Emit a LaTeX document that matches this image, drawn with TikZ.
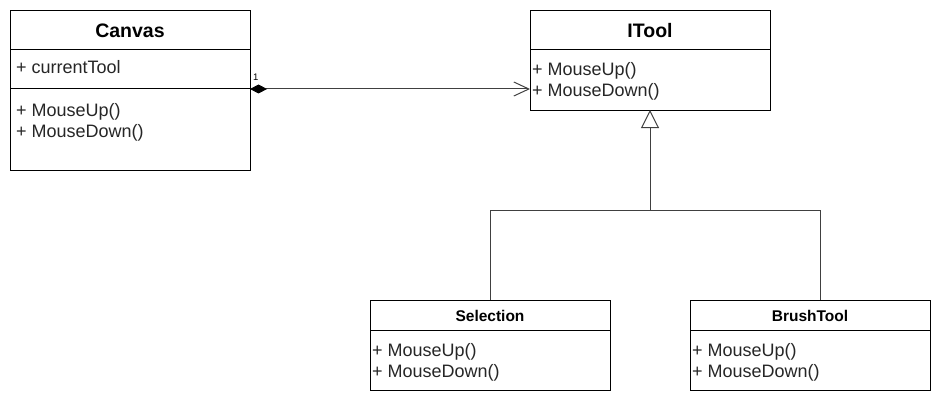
\documentclass[tikz,border=0pt]{standalone}
\usepackage{fontspec}
\setmainfont{Liberation Sans}
\usetikzlibrary{arrows.meta}
\begin{document}
\begin{tikzpicture}[x=1pt,y=-1pt,
  classbox/.style={draw=black, line width=1pt, anchor=north west, inner sep=0pt, minimum width=240pt},
  bigtitle/.style={anchor=base, inner sep=0pt, font=\fontsize{19.5}{22}\selectfont\bfseries},
  smalltitle/.style={anchor=base, inner sep=0pt, font=\fontsize{15.5}{18}\selectfont\bfseries},
  member/.style={anchor=base west, inner sep=0pt, font=\fontsize{18}{20}\selectfont, text=black!85},
  divider/.style={line width=1pt, black},
  conn/.style={line width=1pt, black!75}]
\useasboundingbox (0,0) rectangle (941,401);

% Canvas
\node[classbox, minimum height=160pt] (canvas) at (10,10) {};
\node[bigtitle] (canvasT) at (130,37.5) {Canvas};
\draw[divider] (10,50) -- (250,50);
\draw[divider] (10,89) -- (250,89);
\node[member] (canvasA) at (16,73.5) {+ currentTool};
\node[member] (canvasM1) at (16,116.5) {+ MouseUp()};
\node[member] (canvasM2) at (16,137.5) {+ MouseDown()};

% ITool
\node[classbox, minimum height=100pt] (itool) at (530,10) {};
\node[bigtitle] (itoolT) at (650,37.5) {ITool};
\draw[divider] (530,50) -- (770,50);
\node[member] (itoolM1) at (532,76) {+ MouseUp()};
\node[member] (itoolM2) at (532,97) {+ MouseDown()};

% Selection
\node[classbox, minimum height=90pt] (sel) at (370,300) {};
\node[smalltitle] (selT) at (490,321) {Selection};
\draw[divider] (370,330) -- (610,330);
\node[member] (selM1) at (372,356.5) {+ MouseUp()};
\node[member] (selM2) at (372,377.5) {+ MouseDown()};

% BrushTool
\node[classbox, minimum height=90pt] (brush) at (690,300) {};
\node[smalltitle] (brushT) at (810,321) {BrushTool};
\draw[divider] (690,330) -- (930,330);
\node[member] (brushM1) at (692,356.5) {+ MouseUp()};
\node[member] (brushM2) at (692,377.5) {+ MouseDown()};

% association (composition)
\coordinate (assocA) at (250,89);
\coordinate (assocB) at (530,89);
\draw[conn, {Diamond[length=17pt,width=9pt,fill=black,black]}-{Straight Barb[length=15pt,width=14pt,line width=1pt]}] (assocA) -- (assocB);
\node[anchor=base west, inner sep=0pt, font=\fontsize{9.5}{11}\selectfont] (mult) at (253,81) {1};

% generalization
\coordinate (itoolB) at (650,110);
\coordinate (junction) at (650,210);
\coordinate (selTop) at (490,300);
\coordinate (brushTop) at (820,300);
\draw[conn] (selTop) |- (junction);
\draw[conn] (brushTop) |- (junction);
\draw[conn, -{Triangle[open,length=18pt,width=18pt,line width=1pt,fill=white]}] (junction) -- (itoolB);
\end{tikzpicture}
\end{document}
